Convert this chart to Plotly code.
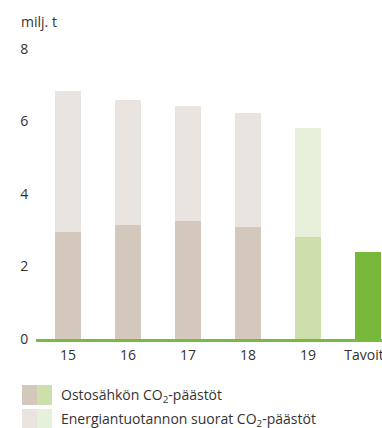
import plotly.graph_objects as go

years = ['15', '16', '17', '18', '19', 'Tavoite']
purchased = [2.95, 3.14, 3.26, 3.09, 2.81, 2.40]
direct = [3.89, 3.45, 3.17, 3.14, 3.01, 0]
y_ticks = [0, 2, 4, 6, 8]

purchased_colors = ['#d4c7bb'] * 4 + ['#cde0ac', '#77b83b']
direct_colors = ['#e9e4df'] * 4 + ['#e6f0da', '#77b83b']

font = 'Open Sans, Lato, sans-serif'
x = list(range(len(years)))

L, T, PLOT_H = 36, 49, 290
PLOT_W = 382 - L
BOTTOM = T + PLOT_H


def px_x(page_x):
    return (page_x - L) / PLOT_W


def px_y(page_y):
    return (BOTTOM - page_y) / PLOT_H


fig = go.Figure()
fig.add_trace(go.Bar(x=x, y=purchased, width=0.43,
                     marker=dict(color=purchased_colors, line_width=0),
                     showlegend=False, hoverinfo='skip'))
fig.add_trace(go.Bar(x=x, y=direct, width=0.43,
                     marker=dict(color=direct_colors, line_width=0),
                     showlegend=False, hoverinfo='skip'))

fig.update_layout(
    width=382, height=428,
    barmode='stack',
    plot_bgcolor='white', paper_bgcolor='white',
    margin=dict(l=L, r=0, t=T, b=428 - BOTTOM),
    font=dict(family=font, size=14, color='#333333'),
    xaxis=dict(range=[-0.533, -0.533 + PLOT_W / 60], tickvals=x, ticktext=years,
               showgrid=False, zeroline=False, showline=True,
               linecolor='#78bb3c', linewidth=2.5, automargin=False,
               ticklabeloverflow='allow',
               ticks='outside', ticklen=1, tickcolor='rgba(0,0,0,0)'),
    yaxis=dict(range=[0, 8], tickvals=y_ticks, showgrid=False,
               zeroline=False, showline=False, ticks='outside',
               automargin=False,
               ticklen=4, tickcolor='rgba(0,0,0,0)'),
)

fig.add_annotation(text='milj. t', xref='paper', yref='paper',
                   x=px_x(19), y=px_y(21), xanchor='left', yanchor='middle',
                   showarrow=False, font=dict(size=14, color='#333333'))

# legend drawn by hand: split swatches
legend_rows = [
    ('#d4c7bb', '#cde0ac', 'Ostosähkön CO<sub>2</sub>-päästöt', 395),
    ('#e9e4df', '#e6f0da', 'Energiantuotannon suorat CO<sub>2</sub>-päästöt', 419),
]
for c1, c2, label, yc in legend_rows:
    fig.add_shape(type='rect', xref='paper', yref='paper',
                  x0=px_x(22), x1=px_x(37), y0=px_y(yc + 10), y1=px_y(yc - 10),
                  fillcolor=c1, line_width=0)
    fig.add_shape(type='rect', xref='paper', yref='paper',
                  x0=px_x(37), x1=px_x(52), y0=px_y(yc + 10), y1=px_y(yc - 10),
                  fillcolor=c2, line_width=0)
    fig.add_annotation(text=label, xref='paper', yref='paper',
                       x=px_x(59), y=px_y(yc),
                       xanchor='left', yanchor='middle', showarrow=False,
                       font=dict(size=14, color='#333333'))

# drop the default 8px body margin so the figure fills the window
fig.write_html('out.html', config={'displayModeBar': False},
               post_script="document.body.style.margin='0';"
                           "document.body.style.overflow='hidden';")
